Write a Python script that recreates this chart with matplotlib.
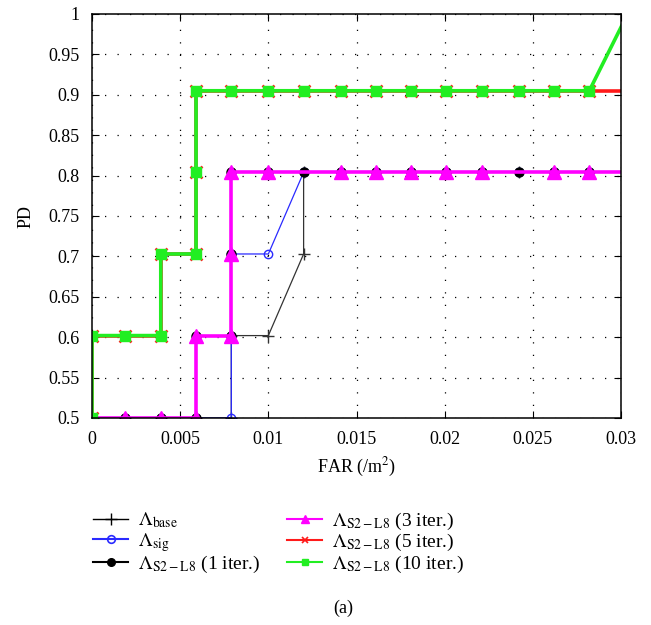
import matplotlib
matplotlib.use('Agg')
import matplotlib.pyplot as plt
from matplotlib.lines import Line2D

plt.rcParams['font.family'] = ['Liberation Serif', 'DejaVu Serif']
plt.rcParams['mathtext.fontset'] = 'stix'

# FAR sample positions and PD levels
f = [0, 0.0019, 0.0039, 0.0059, 0.0079, 0.0100, 0.0120, 0.0141, 0.0161,
     0.0181, 0.0201, 0.0221, 0.0242, 0.0262, 0.0282, 0.0322]

# Lambda_base
far_base = [0, f[1], f[2], f[3], f[4], f[4], f[5], f[6], f[6]] + f[7:]
pd_base = [0.5, 0.5, 0.5, 0.5, 0.5, 0.602, 0.602, 0.703, 0.804] + [0.804] * 9

# Lambda_sig
far_sig = [0, f[1], f[2], f[3], f[4], f[4], f[4], f[5]] + f[6:]
pd_sig = [0.5, 0.5, 0.5, 0.5, 0.5, 0.602, 0.703, 0.703] + [0.804] * 10

# Lambda_S2-L8, 1 iteration
far_it1 = [0, f[1], f[2], f[3], f[3], f[4], f[4], f[4]] + f[5:]
pd_it1 = [0.5, 0.5, 0.5, 0.5, 0.602, 0.602, 0.703, 0.804] + [0.804] * 11

# Lambda_S2-L8, 3 iterations
far_it3 = [0, f[1], f[2], f[3], f[3], f[4], f[4], f[4], f[5]] + f[7:12] + f[13:]
pd_it3 = [0.5, 0.5, 0.5, 0.5, 0.602, 0.602, 0.703, 0.804, 0.804] + [0.804] * 8

# Lambda_S2-L8, 5 iterations
far_it5 = [0, 0, f[1], f[2], f[2], f[3], f[3], f[3]] + f[4:]
pd_it5 = [0.5, 0.602, 0.602, 0.602, 0.703, 0.703, 0.804, 0.905] + [0.905] * 12

# Lambda_S2-L8, 10 iterations
far_it10 = list(far_it5)
pd_it10 = [0.5, 0.602, 0.602, 0.602, 0.703, 0.703, 0.804, 0.905] + [0.905] * 11 + [1.08]

labels = [r'$\Lambda_{\mathrm{base}}$', r'$\Lambda_{\mathrm{sig}}$',
          r'$\Lambda_{\mathrm{S2-L8}}$ (1 iter.)', r'$\Lambda_{\mathrm{S2-L8}}$ (3 iter.)',
          r'$\Lambda_{\mathrm{S2-L8}}$ (5 iter.)', r'$\Lambda_{\mathrm{S2-L8}}$ (10 iter.)']

fig = plt.figure(figsize=(6.51, 6.25), dpi=100)
ax = fig.add_axes([0.1413, 0.3312, 0.8127, 0.6464])

ax.plot(far_base, pd_base, color='#333333', lw=0.9, marker='+', ms=9, mew=1.0)
ax.plot(far_sig, pd_sig, color='#2a2aff', lw=0.9, marker='o', ms=6, mfc='none', mew=1.0)
ax.plot(far_it1, pd_it1, color='black', lw=1.2, marker='o', ms=6.5)
ax.plot(far_it3, pd_it3, color='#ff00ff', lw=2.6, marker='^', ms=10)
ax.plot(far_it5, pd_it5, color='#ff1a1a', lw=2.6, marker='x', ms=9, mew=1.8)
ax.plot(far_it10, pd_it10, color='#22ee22', lw=2.6, marker='s', ms=6.5)

ax.set_xlim(0, 0.03)
ax.set_ylim(0.5, 1.0)
ax.set_xticks([0, 0.005, 0.01, 0.015, 0.02, 0.025, 0.03])
ax.set_xticklabels(['0', '0.005', '0.01', '0.015', '0.02', '0.025', '0.03'])
ax.set_yticks([0.5, 0.55, 0.6, 0.65, 0.7, 0.75, 0.8, 0.85, 0.9, 0.95, 1.0])
ax.set_yticklabels(['0.5', '0.55', '0.6', '0.65', '0.7', '0.75', '0.8', '0.85', '0.9', '0.95', '1'])
ax.tick_params(direction='in', top=True, right=True, labelsize=13, length=5, pad=9)
ax.grid(True, color='black', linestyle=(0, (1, 9)), linewidth=0.9)
for s in ax.spines.values():
    s.set_linewidth(1.1)

ax.set_xlabel(r'FAR (/m$^2$)', fontsize=13, labelpad=6)
ax.set_ylabel('PD', fontsize=13, labelpad=10)

# thin legend handles as in the original
handles = [
    Line2D([], [], color='black', lw=1.0, marker='+', ms=8, mew=1.0),
    Line2D([], [], color='#2a2aff', lw=1.5, marker='o', ms=5.5, mfc='none', mew=1.2),
    Line2D([], [], color='black', lw=1.5, marker='o', ms=5.5),
    Line2D([], [], color='#ff00ff', lw=1.5, marker='^', ms=5.5),
    Line2D([], [], color='#ff1a1a', lw=1.5, marker='x', ms=5, mew=1.2),
    Line2D([], [], color='#22ee22', lw=1.5, marker='s', ms=5),
]
fig.legend(handles, labels, loc='upper left', bbox_to_anchor=(0.122, 0.205), ncol=2,
           frameon=False, fontsize=14, handlelength=1.8, columnspacing=1.4,
           labelspacing=0.02, handletextpad=0.5, borderpad=0.2)
fig.text(0.527, 0.02, '(a)', ha='center', fontsize=13)

fig.savefig('out.png', dpi=100)
